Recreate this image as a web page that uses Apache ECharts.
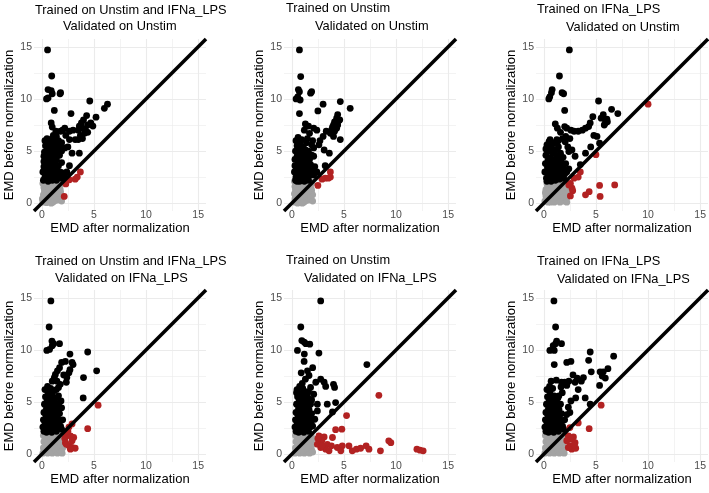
<!DOCTYPE html>
<html><head><meta charset="utf-8">
<script src="https://cdn.jsdelivr.net/npm/echarts@6/dist/echarts.min.js"></script>
<style>html,body{margin:0;padding:0;background:#fff}#c{width:709px;height:493px}</style>
</head><body><div id="c"></div>
<script>
const axisTicks = [0, 5, 10, 15];
const minorTicks = [2.5, 7.5, 12.5];
const AX_MIN = -0.75, AX_MAX = 15.75;
const titleLine1 = ['Trained on Unstim and IFNa_LPS', 'Trained on Unstim', 'Trained on IFNa_LPS',
                    'Trained on Unstim and IFNa_LPS', 'Trained on Unstim', 'Trained on IFNa_LPS'];
const titleLine2 = ['Validated on Unstim', 'Validated on Unstim', 'Validated on Unstim',
                    'Validated on IFNa_LPS', 'Validated on IFNa_LPS', 'Validated on IFNa_LPS'];
const xName = 'EMD after normalization';
const yName = 'EMD before normalization';

// ---------- Panel 1 ----------
const p1Grey = [[0.1,0.1],[0.2,0.5],[0.3,1.0],[0.2,1.5],[0.3,2.0],[0.4,0.3],[0.5,0.8],[0.5,1.3],[0.5,1.8],[0.6,2.2],[0.7,0.2],[0.7,0.6],[0.8,1.1],[0.8,1.6],[0.9,2.0],[1.0,0.4],[1.0,0.9],[1.1,1.4],[1.1,1.9],[1.2,0.2],[1.3,0.7],[1.3,1.2],[1.4,1.7],[1.4,2.1],[1.5,0.3],[1.6,0.9],[1.6,1.5],[1.7,0.5],[1.8,1.1],[1.8,1.8],[1.9,0.2],[1.9,0.7],[0.15,0.8],[0.25,1.2],[0.35,1.7],[0.45,0.05],[0.65,1.4],[0.75,1.9],[0.95,1.5],[1.05,0.1],[1.25,1.6],[1.45,1.0],[1.65,2.0],[1.75,1.4],[0.1,1.9],[0.05,0.4],[0.9,0.0],[1.5,2.2]];
const p1Black = [[0.55,14.7],[0.95,12.2],[0.6,10.9],[0.9,10.8],[1.0,10.5],[0.45,10.0],[0.6,10.1],[1.8,10.6],[1.75,10.5],[1.2,8.9],[2.8,8.6],[4.6,9.8],[5.2,8.25],[6.0,9.1],[6.3,9.5],
  [4.3,8.4],[4.0,8.0],[3.8,7.7],[3.9,7.2],[3.5,7.0],[4.4,7.5],[4.7,7.7],[4.9,7.4],[3.7,6.5],[3.9,6.2],[3.5,6.1],[4.4,6.8],[4.1,6.7],[4.2,7.0],[3.6,7.4],
  [2.0,7.0],[2.2,7.2],[1.35,6.9],[0.9,7.7],[1.0,7.3],[3.0,7.0],[2.65,6.9],[2.65,6.1],[3.2,6.1],[2.9,4.8],[3.6,4.8],[2.2,5.3],[2.5,5.4],[1.9,5.8],[1.7,5.4],[2.65,3.6],[1.4,6.4],[1.6,6.0],[1.1,6.5],[2.3,6.5],[1.8,6.9],
  [0.1,3.0],[0.2,3.5],[0.2,4.0],[0.25,4.9],[0.3,2.5],[0.3,3.2],[0.35,5.5],[0.4,4.3],[0.4,2.8],[0.45,3.8],[0.5,5.0],[0.5,2.3],[0.55,4.6],[0.6,3.3],[0.6,5.9],[0.65,2.6],[0.7,4.0],[0.7,5.3],[0.75,3.0],[0.8,4.8],[0.8,2.4],[0.85,3.6],[0.9,5.6],[0.9,4.3],[0.95,2.8],[1.0,3.2],[1.0,5.0],[1.05,4.0],[1.1,2.5],[1.1,5.8],[1.15,3.5],[1.2,4.5],[1.2,2.9],[1.3,5.2],[1.3,3.8],[1.35,2.6],[1.4,4.2],[1.45,3.1],[1.5,5.5],[1.55,2.7],[1.6,3.6],[1.7,4.6],[1.75,3.0],[1.8,2.4],[1.9,3.9],[2.0,2.9],[2.1,2.5],[0.3,6.0],[0.5,6.2],[0.8,6.1],[1.25,6.2],[0.15,2.2],[0.6,2.1],[1.0,2.2],[1.4,2.2],[1.8,2.6],[2.2,2.8],[2.4,3.0],[0.2,4.5],[0.35,3.7],[0.65,4.4],[1.5,4.9],[1.9,5.0]];
const p1Red = [[3.7,3.0],[3.4,2.5],[3.2,2.3],[2.65,2.24],[2.3,1.85],[2.15,0.65]];

// ---------- Panel 2 ----------
const p2Grey = [[0.3,0.1],[0.35,0.6],[0.4,1.1],[0.3,1.6],[0.4,2.0],[0.5,0.3],[0.6,0.9],[0.6,1.4],[0.6,1.9],[0.7,2.2],[0.8,0.1],[0.8,0.6],[0.9,1.2],[0.9,1.7],[1.0,2.1],[1.1,0.4],[1.1,0.9],[1.2,1.5],[1.2,2.0],[1.3,0.2],[1.4,0.7],[1.4,1.2],[1.5,1.8],[1.5,2.2],[1.6,0.3],[1.7,1.0],[1.7,1.6],[1.8,0.5],[1.9,1.2],[1.9,1.9],[2.0,0.2],[2.0,0.8],[0.25,0.9],[0.35,1.3],[0.45,1.7],[0.55,0.0],[0.75,1.5],[0.85,2.0],[1.05,1.6],[1.15,0.1],[1.35,1.7],[1.55,1.1],[1.75,2.1],[1.85,1.4],[0.25,2.1],[0.3,0.4],[1.0,0.0],[1.6,2.2]];
const p2Black = [[0.73,14.7],[0.85,12.15],[0.63,10.9],[0.73,10.7],[0.57,10.2],[0.41,10.0],[0.8,9.9],[1.9,10.7],[1.8,10.55],[0.73,8.6],[2.5,8.85],[3.0,9.5],[4.65,9.75],[5.6,9.1],
  [4.4,8.5],[4.3,8.15],[4.6,8.0],[4.1,7.8],[4.0,7.5],[4.4,7.5],[4.3,7.2],[3.8,7.0],[4.1,6.9],[4.0,6.4],[4.65,6.1],[3.3,6.9],[3.7,6.7],[4.5,7.9],[3.9,7.3],
  [1.6,7.4],[1.3,7.6],[2.1,7.2],[2.4,7.0],[1.7,6.7],[3.0,6.4],[2.7,6.0],[2.1,5.3],[3.1,5.1],[3.6,4.8],[2.1,4.5],[3.2,3.6],[1.2,7.0],[1.5,6.2],[2.0,6.0],[1.9,5.6],[1.4,5.8],[2.6,5.6],
  [0.25,3.0],[0.3,3.6],[0.3,4.2],[0.35,5.0],[0.4,2.5],[0.4,6.0],[0.45,3.3],[0.5,5.5],[0.5,4.5],[0.55,2.8],[0.6,3.9],[0.6,6.3],[0.65,5.2],[0.7,2.4],[0.7,4.8],[0.75,3.4],[0.8,5.8],[0.8,4.1],[0.85,2.7],[0.9,3.7],[0.9,5.0],[0.95,6.1],[1.0,3.1],[1.0,4.4],[1.05,2.3],[1.1,5.4],[1.1,3.9],[1.15,2.8],[1.2,4.7],[1.25,3.4],[1.3,2.5],[1.3,5.1],[1.35,4.0],[1.4,3.0],[1.45,4.5],[1.5,2.6],[1.55,3.6],[1.6,5.0],[1.65,3.2],[1.7,4.2],[1.75,2.7],[1.8,3.7],[1.9,4.6],[2.0,3.1],[2.1,2.7],[2.2,3.5],[0.35,2.2],[0.75,2.1],[1.2,2.1],[1.6,2.2],[2.4,3.0],[0.5,2.1],[0.9,2.2]];
const p2Red = [[3.7,3.0],[3.7,2.5],[3.2,2.4],[2.9,2.3],[2.5,1.7],[3.5,2.4]];

// ---------- Panel 3 ----------
const p3Grey = [[0.1,0.2],[0.2,0.7],[0.2,1.3],[0.3,1.9],[0.4,0.1],[0.5,0.6],[0.5,1.1],[0.6,1.6],[0.6,2.1],[0.8,0.3],[0.8,0.9],[0.9,1.4],[0.9,1.9],[1.0,0.1],[1.1,0.6],[1.2,1.1],[1.2,1.7],[1.3,2.2],[1.4,0.3],[1.5,0.9],[1.5,1.4],[1.6,2.0],[1.7,0.5],[1.8,1.1],[1.8,1.6],[1.9,0.2],[2.0,0.8],[2.0,1.3],[2.1,1.9],[2.2,0.5],[2.3,1.0],[2.35,1.5],[0.15,1.0],[0.35,1.5],[0.45,2.2],[0.7,1.2],[0.75,1.9],[1.05,1.0],[1.35,1.4],[1.65,1.2],[1.95,1.7],[2.2,0.1],[0.3,0.4],[0.65,0.1],[1.25,0.5],[1.55,0.1],[1.0,2.2],[1.85,2.2]];
const p3Black = [[2.45,14.7],[1.5,12.2],[0.8,10.9],[0.73,10.6],[0.57,10.2],[0.48,10.0],[1.75,10.6],[1.9,10.5],[2.0,8.9],[5.25,9.8],[6.5,9.0],[7.1,8.6],[5.7,8.5],[5.5,8.15],[6.05,8.05],[5.9,7.7],[5.8,7.5],[6.1,7.8],[4.7,8.3],[4.45,7.7],[4.3,7.35],[4.0,7.2],[3.7,7.0],[3.3,6.9],[2.9,6.9],[2.6,7.0],[2.2,7.2],[2.0,7.35],[2.1,6.4],[2.05,5.9],[2.3,5.4],[2.4,4.95],[1.1,7.6],[1.3,7.2],[4.8,6.5],[5.1,6.4],[5.35,5.75],[4.5,5.4],[4.0,4.8],[3.5,3.7],[3.0,4.5],[2.7,5.1],[1.6,6.8],[1.8,6.2],[1.4,6.0],[2.5,6.2],
  [0.1,3.0],[0.15,3.8],[0.2,4.6],[0.25,2.4],[0.3,5.6],[0.35,3.4],[0.4,4.1],[0.45,2.8],[0.5,5.0],[0.5,5.9],[0.55,3.6],[0.6,2.3],[0.65,4.4],[0.7,3.1],[0.75,5.4],[0.8,2.7],[0.85,3.9],[0.9,4.8],[0.95,2.4],[1.0,3.4],[1.0,5.8],[1.05,4.2],[1.1,2.8],[1.15,5.1],[1.2,3.7],[1.25,2.5],[1.3,4.5],[1.35,3.2],[1.4,5.4],[1.45,2.7],[1.5,4.0],[1.55,3.5],[1.6,4.8],[1.65,2.9],[1.7,3.9],[1.8,2.5],[1.85,4.4],[1.9,3.3],[2.0,2.8],[2.1,3.8],[2.2,3.0],[2.4,3.3],[0.3,2.1],[0.7,2.1],[1.1,2.2],[1.5,2.3],[1.9,2.4],[0.2,5.2],[0.6,6.1],[1.25,6.1]];
const p3Red = [[10.0,9.5],[5.0,4.65],[3.5,3.0],[3.3,2.5],[2.9,2.4],[2.55,1.9],[2.7,1.45],[2.77,1.2],[2.55,0.7],[4.0,0.8],[4.35,1.1],[5.35,1.7],[5.4,0.65],[6.8,1.75],[2.4,1.75]];

// ---------- Panel 4 ----------
const p4Grey = [[0.1,0.1],[0.15,0.6],[0.2,1.2],[0.15,1.8],[0.3,0.3],[0.35,0.9],[0.4,1.5],[0.4,2.0],[0.55,0.1],[0.6,0.6],[0.6,1.1],[0.65,1.7],[0.7,2.2],[0.8,0.3],[0.85,0.9],[0.9,1.4],[0.9,1.9],[1.0,0.1],[1.05,0.6],[1.1,1.2],[1.15,1.7],[1.2,2.1],[1.3,0.3],[1.35,0.9],[1.4,1.5],[1.5,0.1],[1.55,0.6],[1.6,1.2],[1.65,1.8],[1.75,0.4],[1.8,0.9],[1.9,1.5],[1.95,0.1],[2.0,0.6],[0.25,2.2],[0.5,1.3],[0.75,1.5],[1.25,1.3],[1.45,2.0],[1.7,1.4],[0.45,0.5],[0.95,0.4],[1.2,0.6],[1.85,0.2],[1.0,1.7],[0.3,1.7]];
const p4Black = [[0.87,14.7],[0.7,12.2],[0.97,10.85],[1.13,10.6],[1.0,10.4],[1.7,10.6],[0.48,9.95],[0.74,10.05],[2.7,9.6],[4.4,9.8],[5.26,8.0],[4.0,7.35],[3.97,5.4],[2.26,8.9],[1.9,8.8],[1.7,8.3],[1.5,8.0],[2.9,8.8],[3.0,8.6],[2.7,8.1],[2.6,7.8],[2.4,7.35],[2.35,6.9],[1.3,7.65],[1.2,7.35],[1.45,7.0],[1.77,6.7],[1.6,6.4],[1.13,6.05],[1.6,5.6],[1.84,5.1],[1.9,4.45],[1.6,4.0],[2.1,7.6],[1.0,7.0],[1.4,6.2],
  [0.1,2.6],[0.15,3.3],[0.2,4.0],[0.2,2.2],[0.25,4.8],[0.3,3.0],[0.35,5.5],[0.4,3.7],[0.4,2.4],[0.45,4.4],[0.5,3.2],[0.5,5.1],[0.55,2.7],[0.6,3.9],[0.6,5.8],[0.65,4.6],[0.7,2.9],[0.7,3.5],[0.75,5.3],[0.8,2.3],[0.8,4.2],[0.85,3.1],[0.9,4.9],[0.9,3.7],[0.95,2.6],[1.0,4.4],[1.0,5.6],[1.05,3.4],[1.1,2.8],[1.1,4.0],[1.15,5.1],[1.2,3.2],[1.25,2.5],[1.25,4.6],[1.3,3.8],[1.35,5.4],[1.4,2.9],[1.45,4.3],[1.5,3.5],[1.55,2.6],[1.6,4.8],[1.65,3.1],[1.7,3.9],[1.8,2.7],[2.0,3.3],[0.3,6.2],[0.55,6.5],[0.85,6.3],[0.45,2.1],[0.95,2.1],[1.4,2.2],[1.9,2.4]];
const p4Red = [[5.4,4.7],[4.4,2.45],[2.9,2.9],[2.6,2.6],[2.35,1.85],[2.74,1.75],[3.06,1.6],[2.26,1.1],[2.6,0.8],[2.9,0.64],[3.2,0.57],[2.74,0.48],[2.35,0.96],[2.9,1.3],[2.2,1.5],[2.5,2.2]];

// ---------- Panel 5 ----------
const p5Grey = [[0.3,0.1],[0.35,0.6],[0.4,1.2],[0.35,1.8],[0.5,0.3],[0.55,0.9],[0.6,1.5],[0.6,2.0],[0.75,0.1],[0.8,0.6],[0.8,1.1],[0.85,1.7],[0.9,2.2],[1.0,0.3],[1.05,0.9],[1.1,1.4],[1.1,1.9],[1.2,0.1],[1.25,0.6],[1.3,1.2],[1.35,1.7],[1.4,2.1],[1.5,0.3],[1.55,0.9],[1.6,1.5],[1.7,0.1],[1.75,0.6],[1.8,1.2],[1.85,1.8],[1.9,0.4],[1.95,0.9],[2.0,1.5],[0.45,2.2],[0.7,1.3],[0.95,1.5],[1.45,1.3],[1.65,2.0],[1.9,1.4],[0.65,0.5],[1.15,0.4],[1.4,0.6],[2.0,0.2],[1.2,1.7],[0.5,1.7]];
const p5Black = [[2.77,14.7],[0.86,12.2],[0.96,10.9],[1.18,10.75],[1.34,10.6],[1.72,10.55],[0.54,9.95],[1.18,8.9],[2.6,9.7],[7.2,8.6],[2.0,8.3],[1.5,8.0],[1.65,7.55],[2.77,7.2],[3.1,6.9],[3.25,6.5],[4.0,6.7],[4.1,6.4],[2.3,6.9],[1.8,6.4],[2.1,5.75],[2.45,4.8],[3.4,4.8],[4.2,4.95],[3.9,4.05],[2.45,4.15],[2.2,3.35],[1.2,9.6],[0.9,7.8],[1.3,7.2],[1.0,6.8],[1.6,6.0],[1.9,5.2],[1.4,5.5],
  [0.3,2.6],[0.35,3.3],[0.4,4.0],[0.4,2.2],[0.45,4.8],[0.5,3.0],[0.55,5.5],[0.6,3.7],[0.6,2.4],[0.65,4.4],[0.7,3.2],[0.7,5.1],[0.75,2.7],[0.8,3.9],[0.8,5.8],[0.85,4.6],[0.9,2.9],[0.9,3.5],[0.95,5.3],[1.0,2.3],[1.0,4.2],[1.05,3.1],[1.1,4.9],[1.1,3.7],[1.15,2.6],[1.2,4.4],[1.2,5.6],[1.25,3.4],[1.3,2.8],[1.3,4.0],[1.35,5.1],[1.4,3.2],[1.45,2.5],[1.45,4.6],[1.5,3.8],[1.55,5.4],[1.6,2.9],[1.65,4.3],[1.7,3.5],[1.75,2.6],[1.8,4.8],[1.85,3.1],[1.9,3.9],[2.0,2.7],[0.5,6.2],[0.75,6.5],[1.05,6.3],[0.65,2.1],[1.15,2.1],[1.6,2.2],[0.45,5.9],[1.25,6.0]];
const p5Red = [[8.35,5.65],[5.25,3.7],[4.8,2.4],[4.2,2.35],[3.9,1.6],[2.6,1.75],[3.1,1.65],[2.87,1.3],[3.4,0.95],[3.8,0.8],[4.36,0.64],[4.84,0.8],[5.48,0.8],[6.2,0.48],[6.6,0.57],[7.13,0.8],[7.4,0.48],[8.5,0.32],[9.3,1.28],[9.5,1.1],[12.0,0.48],[12.3,0.38],[12.6,0.32],[3.25,0.48],[2.77,0.64],[3.57,0.32],[4.7,0.32],[5.8,0.32],[2.45,0.96],[2.9,0.8],[2.5,1.5]];

// ---------- Panel 6 ----------
const p6Grey = [[0.1,0.1],[0.15,0.6],[0.2,1.2],[0.15,1.8],[0.3,0.3],[0.35,0.9],[0.4,1.5],[0.4,2.0],[0.55,0.1],[0.6,0.6],[0.6,1.1],[0.65,1.7],[0.7,2.2],[0.8,0.3],[0.85,0.9],[0.9,1.4],[0.9,1.9],[1.0,0.1],[1.05,0.6],[1.1,1.2],[1.15,1.7],[1.2,2.1],[1.3,0.3],[1.35,0.9],[1.4,1.5],[1.5,0.1],[1.55,0.6],[1.6,1.2],[1.65,1.8],[1.75,0.4],[1.8,0.9],[1.9,1.5],[1.95,0.1],[2.0,0.6],[0.25,2.2],[0.5,1.3],[0.75,1.5],[1.25,1.3],[1.45,2.0],[1.7,1.4],[0.45,0.5],[0.95,0.4],[1.2,0.6],[1.85,0.2],[1.0,1.7],[0.3,1.7],[2.0,1.9]];
const p6Black = [[0.97,14.7],[1.13,12.2],[1.23,10.85],[1.13,10.6],[0.9,10.4],[1.7,10.6],[0.58,9.95],[1.0,9.95],[1.0,8.6],[2.6,8.9],[4.45,9.8],[4.3,9.0],[6.7,9.4],[6.15,8.2],[5.4,7.9],[5.6,7.5],[5.35,6.6],[5.9,7.3],[5.7,7.9],[4.55,7.9],[3.8,7.35],[3.6,7.0],[3.0,6.9],[3.2,7.3],[2.8,7.6],[2.4,7.0],[2.0,6.9],[2.2,6.6],[1.7,6.9],[1.65,6.45],[3.06,5.4],[3.97,5.4],[2.35,4.5],[4.45,4.8],[1.77,5.9],[1.45,5.6],[1.2,7.1],[0.7,7.0],[2.2,8.8],[3.3,6.2],[2.6,5.1],
  [0.1,2.6],[0.15,3.3],[0.2,4.0],[0.2,2.2],[0.25,4.8],[0.3,3.0],[0.35,5.5],[0.4,3.7],[0.4,2.4],[0.45,4.4],[0.5,3.2],[0.5,5.1],[0.55,2.7],[0.6,3.9],[0.6,5.8],[0.65,4.6],[0.7,2.9],[0.7,3.5],[0.75,5.3],[0.8,2.3],[0.8,4.2],[0.85,3.1],[0.9,4.9],[0.9,3.7],[0.95,2.6],[1.0,4.4],[1.0,5.6],[1.05,3.4],[1.1,2.8],[1.1,4.0],[1.15,5.1],[1.2,3.2],[1.25,2.5],[1.25,4.6],[1.3,3.8],[1.35,5.4],[1.4,2.9],[1.45,4.3],[1.5,3.5],[1.55,2.6],[1.6,4.8],[1.65,3.1],[1.7,3.9],[1.8,2.7],[2.0,3.3],[0.3,6.2],[0.55,6.5],[0.85,6.3],[0.45,2.1],[0.95,2.1],[1.4,2.2],[1.9,2.4],[2.2,3.8],[2.5,4.0]];
const p6Red = [[5.5,4.7],[4.35,2.45],[3.3,3.0],[2.5,2.55],[2.35,1.75],[2.84,1.66],[2.6,1.44],[3.0,1.1],[2.5,0.8],[2.68,0.48],[3.06,0.57],[2.35,0.64],[2.2,1.3],[2.9,0.9]];

const panelGrey = [p1Grey, p2Grey, p3Grey, p4Grey, p5Grey, p6Grey];
const panelBlack = [p1Black, p2Black, p3Black, p4Black, p5Black, p6Black];
const panelRed = [p1Red, p2Red, p3Red, p4Red, p5Red, p6Red];

// layout (pixels)
const gridLeft = [34, 284, 536, 34, 284, 536];
const gridTop = [39, 39, 39, 290, 290, 290];
const GRID_W = 172, GRID_H = 172;
const title1Left = [35, 286, 537, 35, 286, 537];
const title2Left = [63, 315, 566, 55, 304, 557];
const title1Top = [4, 2, 3, 255, 254, 255];
const title2Top = [20, 20, 21, 272, 272, 273];

const FONT = '"Liberation Sans", Arial, Helvetica, sans-serif';
const COL_GREY = '#a3a3a3', COL_BLACK = '#000000', COL_RED = '#b22222';

const grids = [], xAxes = [], yAxes = [], series = [], titles = [];
for (let i = 0; i < 6; i++) {
  grids.push({left: gridLeft[i], top: gridTop[i], width: GRID_W, height: GRID_H, outerBoundsMode: 'none', containLabel: false});
  xAxes.push({gridIndex: i, type: 'value', min: AX_MIN, max: AX_MAX,
    axisLine: {show: false}, axisTick: {show: false}, splitLine: {show: false},
    axisLabel: {customValues: axisTicks, color: '#4d4d4d', fontSize: 10.5, margin: -1, fontFamily: FONT},
    name: xName, nameLocation: 'middle', nameGap: 10,
    nameTextStyle: {fontSize: 13, color: '#000', fontFamily: FONT}});
  yAxes.push({gridIndex: i, type: 'value', min: AX_MIN, max: AX_MAX,
    axisLine: {show: false}, axisTick: {show: false}, splitLine: {show: false},
    axisLabel: {customValues: axisTicks, color: '#4d4d4d', fontSize: 10.5, margin: 2, fontFamily: FONT},
    name: yName, nameLocation: 'middle', nameGap: 14,
    nameTextStyle: {fontSize: 13, color: '#000', fontFamily: FONT}});
  const gridLines = [];
  minorTicks.forEach(v => { gridLines.push({xAxis: v, lineStyle: {width: 0.6}}); gridLines.push({yAxis: v, lineStyle: {width: 0.6}}); });
  axisTicks.forEach(v => { gridLines.push({xAxis: v, lineStyle: {width: 1.1}}); gridLines.push({yAxis: v, lineStyle: {width: 1.1}}); });
  series.push({type: 'scatter', xAxisIndex: i, yAxisIndex: i, data: [], silent: true,
    markLine: {z: 0, silent: true, symbol: 'none', animation: false, label: {show: false},
      lineStyle: {color: '#ebebeb', type: 'solid'}, data: gridLines}});
  const common = {type: 'scatter', xAxisIndex: i, yAxisIndex: i, symbol: 'circle', symbolSize: 6.8, animation: false, silent: true};
  series.push(Object.assign({}, common, {data: panelGrey[i], itemStyle: {color: COL_GREY, opacity: 1}}));
  series.push(Object.assign({}, common, {data: panelBlack[i], itemStyle: {color: COL_BLACK, opacity: 1}}));
  series.push(Object.assign({}, common, {data: panelRed[i], itemStyle: {color: COL_RED, opacity: 1},
    markLine: {z: 5, silent: true, symbol: 'none', animation: false, label: {show: false},
      lineStyle: {color: '#000', width: 3.6, type: 'solid'},
      data: [[{coord: [AX_MIN, AX_MIN]}, {coord: [AX_MAX, AX_MAX]}]]}}));
  titles.push({text: titleLine1[i], left: title1Left[i], top: title1Top[i], padding: 0,
    textStyle: {fontSize: 12.8, fontWeight: 'normal', color: '#000', fontFamily: FONT}});
  titles.push({text: titleLine2[i], left: title2Left[i], top: title2Top[i], padding: 0,
    textStyle: {fontSize: 12.8, fontWeight: 'normal', color: '#000', fontFamily: FONT}});
}

const chart = echarts.init(document.getElementById('c'), null, {renderer: 'canvas'});
chart.setOption({animation: false, backgroundColor: '#fff', title: titles, grid: grids, xAxis: xAxes, yAxis: yAxes, series: series});
</script></body></html>
